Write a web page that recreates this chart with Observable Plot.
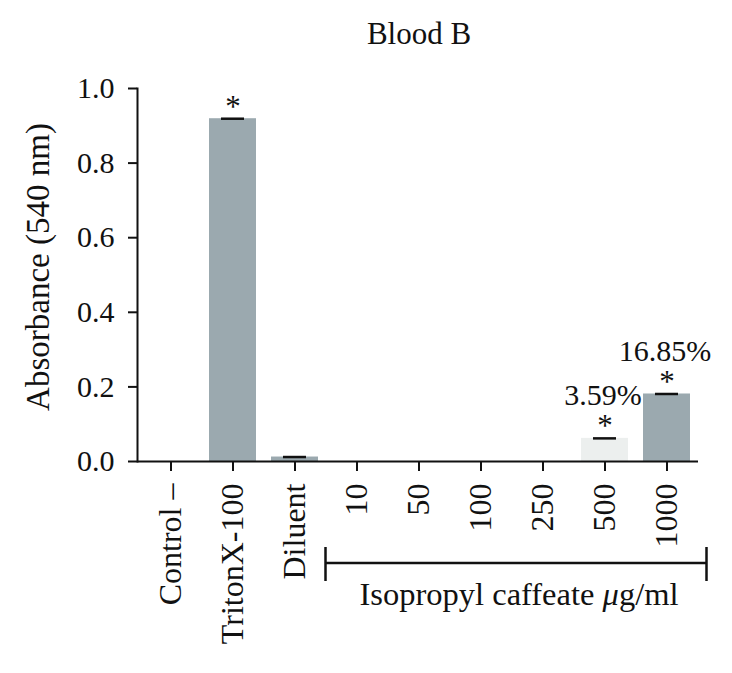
<!DOCTYPE html>
<html><head><meta charset="utf-8">
<script src="https://cdn.jsdelivr.net/npm/d3@7"></script>
<script src="https://cdn.jsdelivr.net/npm/@observablehq/plot@0.6"></script>
<style>body{margin:0;background:#fff;}</style>
</head><body><div id="chart"></div>
<script>
const title = "Blood B";
const yLabel = "Absorbance (540 nm)";
const categories = ["Control –", "TritonX-100", "Diluent", "10", "50", "100", "250", "500", "1000"];
const values = [0, 0.919, 0.012, 0, 0, 0, 0, 0.062, 0.181];
const barColors = ["#9ba9af", "#9ba9af", "#9ba9af", "#9ba9af", "#9ba9af", "#9ba9af", "#9ba9af", "#ecefee", "#9ba9af"];
const significant = [false, true, false, false, false, false, false, true, true];
const percentLabels = ["", "", "", "", "", "", "", "3.59%", "16.85%"];
const yTicks = [0, 0.2, 0.4, 0.6, 0.8, 1.0];
const groupCategories = ["10", "1000"];
const groupLabelMain = "Isopropyl caffeate ";
const groupLabelUnitItalic = "μ";
const groupLabelUnitRest = "g/ml";

const data = categories.map((c, i) => ({cat: c, value: values[i], color: barColors[i], sig: significant[i], pct: percentLabels[i]}));

const FONT = "Liberation Serif, Times New Roman, serif";
const plot = Plot.plot({
  width: 732,
  height: 673,
  marginTop: 88,
  marginBottom: 212,
  marginLeft: 137,
  marginRight: 34,
  style: {fontFamily: FONT, fontSize: "30px", color: "#111", background: "#fff"},
  x: {domain: categories, range: [139, 697], paddingInner: 0.245, paddingOuter: 0.1225},
  y: {domain: [0, 1]},
  color: {type: "identity"},
  marks: [
    Plot.barY(data, {x: "cat", y: "value", fill: "color"}),
    Plot.tickY(data.filter(d => d.value > 0), {x: "cat", y: "value", stroke: "#111", strokeWidth: 2.5, insetLeft: 12, insetRight: 12}),
    Plot.text(data.filter(d => d.sig), {x: "cat", y: "value", text: () => "*", lineAnchor: "bottom", dy: -2, fontSize: 31, fill: "#111"}),
    Plot.text(data.filter(d => d.pct), {x: "cat", y: "value", text: "pct", lineAnchor: "bottom", dy: -33, dx: -2, fontSize: 30, fill: "#111"}),
    Plot.ruleY([0], {stroke: "#111", strokeWidth: 2}),
    Plot.frame({anchor: "left", stroke: "#111", strokeWidth: 2}),
    Plot.axisY({ticks: yTicks, tickFormat: d3.format(".1f"), tickSize: 9, tickPadding: 14, label: null, fontSize: 30, strokeWidth: 2, stroke: "#111", fill: "#111"}),
    Plot.axisX({tickRotate: -90, tickSize: 10, tickPadding: 12, label: null, fontSize: 32, strokeWidth: 2, stroke: "#111", fill: "#111"})
  ]
});
document.getElementById("chart").appendChild(plot);

const svg = d3.select(plot);
const xs = plot.scale("x");
const center = v => xs.apply(v) + xs.bandwidth / 2;
const step = xs.step;

// title
svg.append("text").attr("x", 419).attr("y", 44).attr("text-anchor", "middle")
  .attr("font-family", FONT).attr("font-size", 31).attr("fill", "#111").text(title);
// y label
svg.append("text").attr("transform", `translate(49,267) rotate(-90)`).attr("text-anchor", "middle")
  .attr("font-family", FONT).attr("font-size", 33).attr("fill", "#111").text(yLabel);

// bracket
const bx1 = center(groupCategories[0]) - step / 2;
const bx2 = center(groupCategories[1]) + step / 2 + 9;
const by = 563;
const g = svg.append("g").attr("stroke", "#111").attr("stroke-width", 2.5).attr("fill", "none");
g.append("line").attr("x1", bx1).attr("x2", bx2).attr("y1", by).attr("y2", by);
g.append("line").attr("x1", bx1).attr("x2", bx1).attr("y1", by - 16).attr("y2", by + 18);
g.append("line").attr("x1", bx2).attr("x2", bx2).attr("y1", by - 16).attr("y2", by + 18);
const t = svg.append("text").attr("x", (bx1 + bx2) / 2 + 3).attr("y", 605).attr("text-anchor", "middle")
  .attr("font-family", FONT).attr("font-size", 32.5).attr("fill", "#111");
t.append("tspan").text(groupLabelMain);
t.append("tspan").attr("font-style", "italic").text(groupLabelUnitItalic);
t.append("tspan").text(groupLabelUnitRest);
</script>
</body></html>
